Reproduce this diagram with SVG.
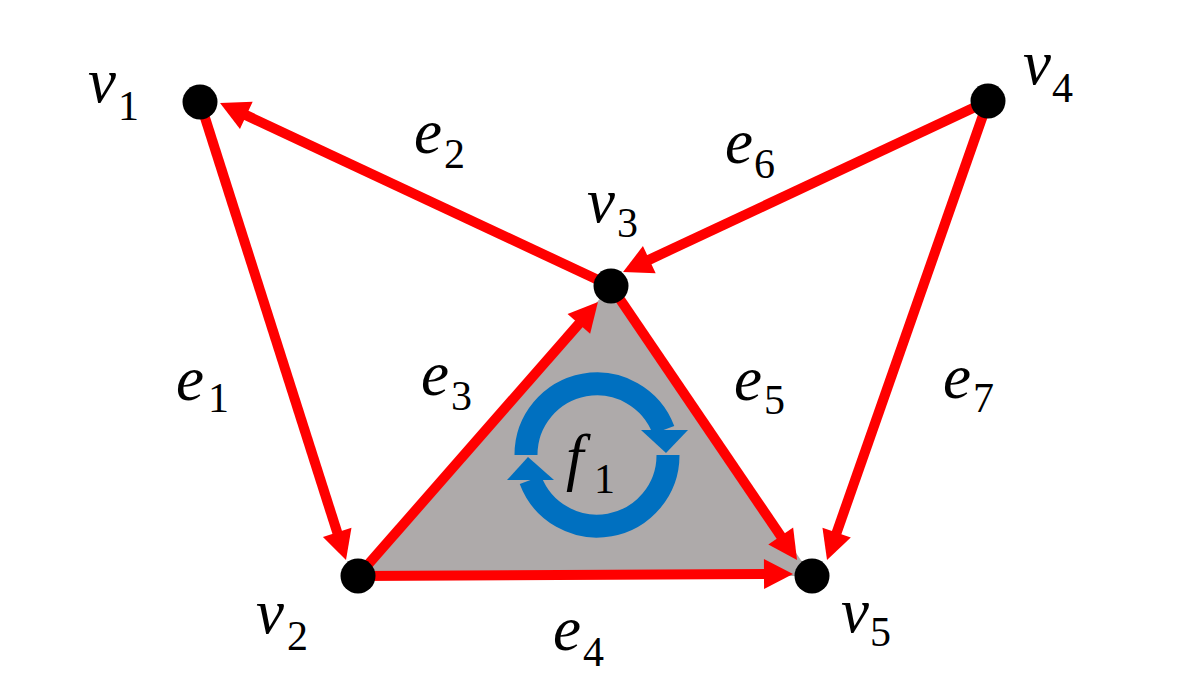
<svg xmlns="http://www.w3.org/2000/svg" width="1200" height="675" viewBox="0 0 1200 675">
<style>
.edge{stroke:#ff0000;stroke-width:10;fill:none;marker-end:url(#ah)}
.node{fill:#000}
.lbl{font-family:"Liberation Serif","DejaVu Serif",serif;font-style:italic;font-size:63px;fill:#000}
.sub{font-style:normal;font-size:42px}
.cyc{stroke:#0070c0;stroke-width:23;fill:none}
.cyh{fill:#0070c0}
</style>
<defs>
<marker id="ah" markerUnits="userSpaceOnUse" markerWidth="32" markerHeight="32" refX="1" refY="15" orient="auto" overflow="visible">
<path d="M0,0 L29,15 L0,30 z" fill="#ff0000"/>
</marker>
</defs>
<rect width="1200" height="675" fill="#fff"/>
<g id="face-f1">
<polygon points="358,576 611,286 812,576" fill="#aeaaaa"/>
<path class="cyc" d="M526,455 A71,71 0 0 1 663.5,430"/>
<polygon class="cyh" points="641,430 688,430 666,453"/>
<path class="cyc" d="M668,455 A71,71 0 0 1 530.5,480"/>
<polygon class="cyh" points="507,480 554,480 528,457"/>
<text class="lbl" x="566" y="478">f<tspan class="sub" x="594" y="493">1</tspan></text>
</g>
<g id="connectors">
<line id="e1" class="edge" x1="200" y1="102" x2="337.5" y2="533.3"/>
<line id="e2" class="edge" x1="611" y1="286" x2="245.4" y2="114.9"/>
<line id="e3" class="edge" x1="358" y1="576" x2="579.5" y2="323.1"/>
<line id="e4" class="edge" x1="358" y1="576" x2="765" y2="574.1"/>
<line id="e5" class="edge" x1="611" y1="286" x2="781.3" y2="536.8"/>
<line id="e6" class="edge" x1="988" y1="101" x2="648.4" y2="260.1"/>
<line id="e7" class="edge" x1="988" y1="101" x2="836.3" y2="533.6"/>
</g>
<g id="edge-labels">
<text class="lbl" x="176" y="400">e<tspan class="sub" x="208" y="412">1</tspan></text>
<text class="lbl" x="414" y="153">e<tspan class="sub" x="444" y="168">2</tspan></text>
<text class="lbl" x="421" y="395">e<tspan class="sub" x="451" y="410">3</tspan></text>
<text class="lbl" x="553" y="650">e<tspan class="sub" x="583" y="666">4</tspan></text>
<text class="lbl" x="734" y="400">e<tspan class="sub" x="764" y="414">5</tspan></text>
<text class="lbl" x="725" y="163">e<tspan class="sub" x="754" y="178">6</tspan></text>
<text class="lbl" x="943" y="398">e<tspan class="sub" x="973" y="412">7</tspan></text>
</g>
<g id="v1"><circle class="node" cx="200" cy="102" r="17.5"/><text class="lbl" x="88" y="102">v<tspan class="sub" x="118" y="120">1</tspan></text></g>
<g id="v2"><circle class="node" cx="358" cy="576" r="17.5"/><text class="lbl" x="256" y="633">v<tspan class="sub" x="287" y="650">2</tspan></text></g>
<g id="v3"><circle class="node" cx="611" cy="286" r="17.5"/><text class="lbl" x="587" y="222">v<tspan class="sub" x="617" y="237">3</tspan></text></g>
<g id="v4"><circle class="node" cx="988" cy="101" r="17.5"/><text class="lbl" x="1023" y="84">v<tspan class="sub" x="1052" y="102">4</tspan></text></g>
<g id="v5"><circle class="node" cx="812" cy="576" r="17.5"/><text class="lbl" x="841" y="632">v<tspan class="sub" x="870" y="646">5</tspan></text></g>
</svg>
